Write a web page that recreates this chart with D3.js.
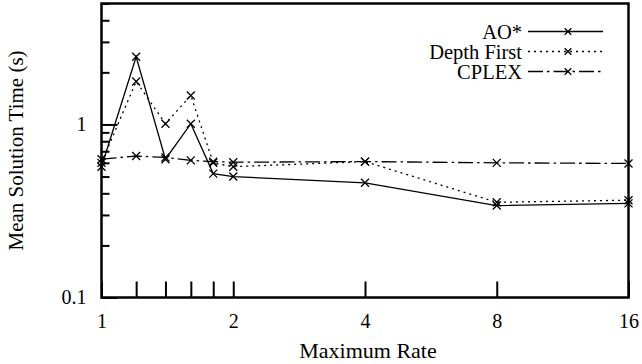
<!DOCTYPE html>
<html>
<head>
<meta charset="utf-8">
<script src="https://cdn.jsdelivr.net/npm/d3@7"></script>
<style>
	body { margin: 0; background: #fff; }
</style>
</head>
<body>
<div id="chart"></div>
<script>
// data
var rates = [1, 1.2, 1.4, 1.6, 1.8, 2, 4, 8, 16];
var ao_star = [0.57, 2.46, 0.63, 1.01, 0.52, 0.50, 0.46, 0.34, 0.35];
var depth_first = [0.60, 1.77, 1.01, 1.47, 0.60, 0.57, 0.61, 0.355, 0.365];
var cplex = [0.63, 0.657, 0.645, 0.62, 0.61, 0.605, 0.61, 0.60, 0.595];

var series_names = ["AO*", "Depth First", "CPLEX"];
var x_tick_values = [1, 1.2, 1.4, 1.6, 1.8, 2, 4, 8, 16];
var x_tick_labels = [1, 2, 4, 8, 16];
var y_major_ticks = [0.1, 1];
var y_minor_ticks = [0.2, 0.3, 0.4, 0.5, 0.6, 0.7, 0.8, 0.9, 2, 3, 4, 5];

var font = "'Liberation Serif', 'Times New Roman', Times, serif";

var series = [
	{name: series_names[0], values: ao_star, dash: null},
	{name: series_names[1], values: depth_first, dash: "2,4"},
	{name: series_names[2], values: cplex, dash: "15,4,2.5,4"}
];

// set the dimensions and margins of the graph
var margin = {top: 3.5, right: 13.5, bottom: 66.5, left: 101.5},
	width = 642 - margin.left - margin.right,
	height = 364 - margin.top - margin.bottom;

var svg = d3.select("div#chart")
	.append("svg")
	.attr("width", 642)
	.attr("height", 364)
	.style("font-family", font)
	.append("g")
	.attr("transform", "translate(" + margin.left + "," + margin.top + ")");

var x = d3.scaleLog().base(2)
	.domain([1, 16])
	.range([0, width]);

var y = d3.scaleLog()
	.domain([0.1, 5])
	.range([height, 0]);

// x ticks, drawn inward
svg.append("g")
	.attr("transform", "translate(0," + height + ")")
	.call(d3.axisBottom(x).tickValues(x_tick_values).tickSize(-16).tickFormat(""))
	.call(g => g.select(".domain").remove())
	.selectAll("line")
		.attr("stroke-width", 2);

svg.append("g")
	.attr("transform", "translate(0," + height + ")")
	.call(d3.axisBottom(x).tickValues(x_tick_labels).tickSize(0).tickPadding(16).tickFormat(d3.format("d")))
	.attr("font-family", font)
	.call(g => g.select(".domain").remove())
	.selectAll("text")
		.style("font-size", "20px");

// y ticks, major and minor
svg.append("g")
	.call(d3.axisLeft(y).tickValues(y_major_ticks).tickSize(-16).tickPadding(15).tickFormat(d3.format("")))
	.attr("font-family", font)
	.call(g => g.select(".domain").remove())
	.call(g => g.selectAll("line").attr("stroke-width", 2))
	.selectAll("text")
		.style("font-size", "20px");

svg.append("g")
	.call(d3.axisLeft(y).tickValues(y_minor_ticks).tickSize(-8).tickFormat(""))
	.call(g => g.select(".domain").remove())
	.selectAll("line")
		.attr("stroke-width", 2);

// frame
svg.append("rect")
	.attr("x", 0)
	.attr("y", 0)
	.attr("width", width)
	.attr("height", height)
	.attr("fill", "none")
	.attr("stroke", "black")
	.attr("stroke-width", 2.5);

// axis labels
svg.append("text")
	.attr("transform", "translate(" + (width / 2 + 3) + "," + (height + 60.5) + ")")
	.style("text-anchor", "middle")
	.style("font-size", "22px")
	.text("Maximum Rate");

svg.append("text")
	.attr("transform", "translate(" + (-margin.left + 23) + "," + (height / 2) + ") rotate(-90)")
	.style("text-anchor", "middle")
	.style("font-size", "21px")
	.text("Mean Solution Time (s)");

var line = d3.line()
	.x(function(d, i) { return x(rates[i]); })
	.y(function(d) { return y(d); });

function cross(g, cx, cy, r) {
	g.append("path")
		.attr("d", "M" + (cx - r) + "," + (cy - r) + "L" + (cx + r) + "," + (cy + r) +
			"M" + (cx - r) + "," + (cy + r) + "L" + (cx + r) + "," + (cy - r))
		.attr("stroke", "black")
		.attr("stroke-width", 1.3)
		.attr("fill", "none");
}

series.forEach(function(s) {
	svg.append("path")
		.datum(s.values)
		.attr("d", line)
		.attr("fill", "none")
		.attr("stroke", "black")
		.attr("stroke-width", 1.3)
		.attr("stroke-dasharray", s.dash);

	var marks = svg.append("g");
	s.values.forEach(function(v, i) {
		cross(marks, x(rates[i]), y(v), 4);
	});
});

// legend
var legend = svg.append("g")
	.attr("transform", "translate(" + (522 - margin.left) + ",0)");

series.forEach(function(s, i) {
	var ly = 28 + i * 20;
	legend.append("text")
		.attr("x", 0)
		.attr("y", ly)
		.attr("dy", "0.35em")
		.style("text-anchor", "end")
		.style("font-size", "20.5px")
		.text(s.name);
	legend.append("line")
		.attr("x1", 6)
		.attr("x2", 81)
		.attr("y1", ly)
		.attr("y2", ly)
		.attr("stroke", "black")
		.attr("stroke-width", 1.3)
		.attr("stroke-dasharray", s.dash);
	cross(legend, 46, ly, 3.3);
});
</script>
</body>
</html>
